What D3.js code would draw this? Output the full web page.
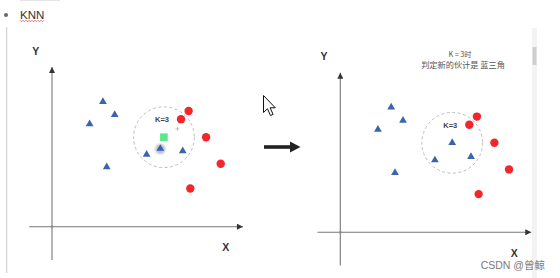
<!DOCTYPE html>
<html>
<head>
<meta charset="utf-8">
<script src="https://cdn.jsdelivr.net/npm/d3@7"></script>
<style>
  html, body { margin: 0; padding: 0; background: #fff; }
  svg { display: block; }
</style>
</head>
<body>
<svg id="chart" width="560" height="278"></svg>
<script>
// KNN illustration: two scatter panels (before / after classifying the new point)

// Blue triangle class (shared by both panels)
const triX = [2.68, 3.30, 1.98, 2.88, 4.98, 6.88];
const triY = [6.58, 5.89, 5.41, 3.14, 3.80, 3.98];
// Red circle class
const dotX = [7.19, 6.79, 8.11, 8.88, 7.28];
const dotY = [6.09, 5.66, 4.71, 3.31, 2.01];
// The unknown point and the triangle being dragged next to it
const newPoint = [5.89, 4.71];
const draggedTri = [5.70, 4.11];
// Neighbourhood for k = 3
const kValue = 3;
const kRadius = 1.6;
const kLabelPos = [5.79, 5.65];
// Axis extents
const xDomain = [-1.2, 10.05];
const yDomain = [-1.75, 8.4];
// Texts
const titleText = "KNN";
const noteLines = ["K = 3时", "判定新的伙计是 蓝三角"];
const watermark = "CSDN @曾鲸";

const svg = d3.select("#chart");
const unit = 19;

const defs = svg.append("defs");
defs.append("marker")
  .attr("id", "axisHead")
  .attr("viewBox", "0 0 10 10")
  .attr("refX", 10).attr("refY", 5)
  .attr("markerUnits", "userSpaceOnUse")
  .attr("markerWidth", 7).attr("markerHeight", 6)
  .attr("orient", "auto")
  .append("path").attr("d", "M0,0 L10,5 L0,10 Z").attr("fill", "#333");
defs.append("filter").attr("id", "soft")
  .append("feGaussianBlur").attr("stdDeviation", 1);

// page chrome: bullet, title, margin rule, scrollbar
svg.append("line").attr("x1", 20).attr("x2", 60).attr("y1", 0.5).attr("y2", 0.5)
  .attr("stroke", "#e4e4e4");
svg.append("circle").attr("cx", 6).attr("cy", 15).attr("r", 2).attr("fill", "#666");
svg.append("text").attr("x", 20).attr("y", 19).text(titleText)
  .attr("font-family", "Liberation Sans, Arial, sans-serif").attr("font-size", 11.5)
  .attr("fill", "#333");
// spell-check squiggle under the title
const squiggle = d3.range(20, 45, 1.5).map((x, i) => [x, 21 + (i % 2 ? 0.8 : -0.8)]);
svg.append("path").attr("d", d3.line()(squiggle)).attr("fill", "none")
  .attr("stroke", "#e8545a").attr("stroke-width", 0.8);
svg.append("line").attr("x1", 6.7).attr("x2", 6.7).attr("y1", 27).attr("y2", 273)
  .attr("stroke", "#c8c8c8").attr("stroke-width", 1);
svg.append("rect").attr("x", 532).attr("y", 28).attr("width", 5).attr("height", 250)
  .attr("fill", "#f3f3f3");
svg.append("rect").attr("x", 532.5).attr("y", 47).attr("width", 4).attr("height", 18)
  .attr("fill", "#cfcfcf");

function panel(ox, oy, opts) {
  const x = d3.scaleLinear().domain([0, 1]).range([ox, ox + unit]);
  const y = d3.scaleLinear().domain([0, 1]).range([oy, oy - unit]);
  const g = svg.append("g");

  // axes
  g.append("line")
    .attr("x1", x(xDomain[0])).attr("x2", x(xDomain[1]))
    .attr("y1", y(0)).attr("y2", y(0))
    .attr("stroke", "#777").attr("stroke-width", 1.1)
    .attr("marker-end", "url(#axisHead)");
  g.append("line")
    .attr("x1", x(0)).attr("x2", x(0))
    .attr("y1", y(yDomain[0])).attr("y2", y(yDomain[1]))
    .attr("stroke", "#777").attr("stroke-width", 1.1)
    .attr("marker-end", "url(#axisHead)");
  g.append("circle").attr("cx", x(0)).attr("cy", y(0)).attr("r", 1.3)
    .attr("fill", "none").attr("stroke", "#999").attr("stroke-width", 0.6);

  const lab = { "font-family": "Liberation Sans, Arial, sans-serif", "font-weight": "bold",
                "font-size": 10.5, "fill": "#333", "text-anchor": "middle" };
  const yl = g.append("text").attr("x", x(-0.86)).attr("y", y(9.05)).text("Y");
  const xl = g.append("text").attr("x", x(9.15)).attr("y", y(-1.3)).text("X");
  for (const k in lab) { yl.attr(k, lab[k]); xl.attr(k, lab[k]); }

  // k-neighbourhood
  g.append("circle")
    .attr("cx", x(newPoint[0])).attr("cy", y(newPoint[1]))
    .attr("r", x(kRadius) - x(0))
    .attr("fill", "none").attr("stroke", "#bdbdbd").attr("stroke-width", 1)
    .attr("stroke-dasharray", "3,2.5");
  g.append("text").attr("x", x(kLabelPos[0])).attr("y", y(kLabelPos[1]) + 3)
    .attr("text-anchor", "middle").attr("font-family", "Liberation Sans, Arial, sans-serif")
    .attr("font-weight", "bold").attr("font-size", 7.5).attr("fill", "#444")
    .text("K=" + kValue);

  const tri = d3.symbol().type(d3.symbolTriangle).size(26);
  const triPts = triX.map((v, i) => [v, triY[i]]);
  if (opts.classified) triPts.push(newPoint);

  if (!opts.classified) {
    // new, unclassified point
    g.append("rect")
      .attr("x", x(newPoint[0]) - 3.8).attr("y", y(newPoint[1]) - 3.8)
      .attr("width", 7.6).attr("height", 7.6).attr("fill", "#5ee68a");
    // triangle being dragged, with its drop shadow
    g.append("circle").attr("cx", x(draggedTri[0])).attr("cy", y(draggedTri[1]) + 0.5)
      .attr("r", 5).attr("fill", "#888").attr("opacity", 0.55).attr("filter", "url(#soft)");
    g.append("path").attr("d", tri)
      .attr("transform", `translate(${x(draggedTri[0])},${y(draggedTri[1])})`)
      .attr("fill", "#2f62c0");
    // crosshair pointer
    g.append("path")
      .attr("d", `M${x(6.6) - 2},${y(5.15)}h4M${x(6.6)},${y(5.15) - 2}v4`)
      .attr("stroke", "#aaa").attr("stroke-width", 0.7);
  }

  g.selectAll("path.tri").data(triPts).join("path").attr("class", "tri")
    .attr("d", tri)
    .attr("transform", d => `translate(${x(d[0])},${y(d[1])})`)
    .attr("fill", "#3a63b0");

  g.selectAll("circle.dot").data(dotX.map((v, i) => [v, dotY[i]])).join("circle")
    .attr("class", "dot")
    .attr("cx", d => x(d[0])).attr("cy", d => y(d[1])).attr("r", 4.2)
    .attr("fill", "#f2262b");
}

panel(52, 226.7, { classified: false });
panel(340.3, 232.3, { classified: true });

// explanatory note in the right panel
svg.selectAll("text.note").data(noteLines).join("text").attr("class", "note")
  .attr("x", (d, i) => i ? 463 : 460).attr("y", (d, i) => i ? 68 : 57)
  .attr("text-anchor", "middle")
  .attr("font-family", "Noto Sans CJK SC, sans-serif")
  .attr("font-size", (d, i) => i ? 8.2 : 7.2)
  .attr("fill", "#555")
  .text(d => d);

// transition arrow between panels
svg.append("line").attr("x1", 264).attr("x2", 292).attr("y1", 147).attr("y2", 147)
  .attr("stroke", "#222").attr("stroke-width", 3.6);
svg.append("path").attr("d", "M290,141.5 L300.5,147 L290,152.5 Z").attr("fill", "#222");

// mouse pointer
svg.append("path")
  .attr("d", "M0,0 L0,17 L4,13.3 L7,20 L9.6,18.9 L6.6,12.3 L11.8,12.3 Z")
  .attr("transform", "translate(263.5,95.5)")
  .attr("fill", "#fff").attr("stroke", "#111").attr("stroke-width", 1)
  .attr("stroke-linejoin", "round");

// watermark
svg.append("text").attr("x", 545).attr("y", 268.5).attr("text-anchor", "end")
  .attr("font-family", "Liberation Sans, Noto Sans CJK SC, sans-serif")
  .attr("font-size", 10.5).attr("fill", "#7a7a7a").text(watermark);
</script>
</body>
</html>
